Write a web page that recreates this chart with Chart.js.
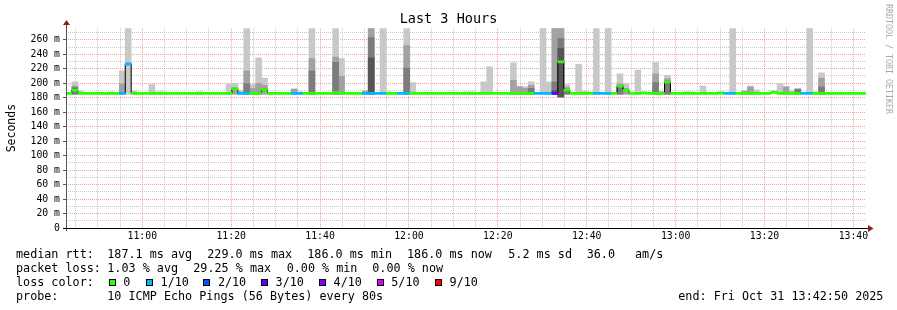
<!DOCTYPE html>
<html>
<head>
<meta charset="utf-8">
<script src="https://cdn.jsdelivr.net/npm/chart.js@4.4.0/dist/chart.umd.min.js"></script>
<style>
  body { margin: 0; background: #fff; }
  #wrap { position: relative; width: 897px; height: 310px; font-family: 'DejaVu Sans Mono', monospace; }
  #wrap canvas { position: absolute; left: 0; top: 0; }
  .lg { position: absolute; font-size: 11.75px; line-height: 14px; white-space: pre; color: #000; }
  .sw { position: absolute; width: 5px; height: 5px; border: 1px solid #000; }
  #credit { position: absolute; left: 884px; top: 4px; writing-mode: vertical-rl; font-size: 8.3px; line-height: 10px; color: #aaa; white-space: pre; }
</style>
</head>
<body>
<div id="wrap">
  <canvas id="smoke" width="897" height="310"></canvas>
  <div id="credit">RRDTOOL / TOBI OETIKER</div>
  <div id="legend"></div>
</div>
<script>
// time axis in minutes since midnight
var startMin = 10 * 60 + 42 + 50 / 60;   // 10:42:50
var stepMin = 80 / 60;                   // one probe round every 80 s

// median rtt (ms) per 80 s step, 135 steps
var median = [
  186, 190, 186, 186, 186, 186, 186, 186, 186, 186, 226.5, 186, 186, 186, 186,
  186, 186, 186, 186, 186, 186, 186, 186, 186, 186, 186, 186, 186, 192, 186,
  186, 186, 186, 191, 186, 186, 186, 186, 186, 186, 186, 186, 186, 186, 186,
  187, 186, 186, 186, 186, 186, 186, 186, 186, 186, 186, 186, 186, 186, 186,
  186, 186, 186, 186, 186, 186, 186, 186, 186, 186, 186, 186, 186, 186, 186,
  186, 186, 186, 186, 186, 186, 186, 186, 229.5, 190.5, 186, 186, 186, 186, 186,
  186, 186, 186, 196, 190, 186, 186, 186.5, 186, 186, 186, 201.5, 186, 186, 186,
  186, 186, 186, 186, 186, 186.5, 186, 186, 186, 186, 186, 186, 186, 186, 187.5,
  186, 186, 186, 186, 186, 186, 186, 186, 186, 186, 186, 186, 186, 186, 186
];

// lost pings out of 10 per step
var lossCount = [
  0, 0, 0, 0, 0, 0, 0, 0, 0, 1, 1, 0, 0, 0, 0,
  0, 0, 0, 0, 0, 0, 0, 0, 0, 0, 0, 0, 0, 0, 1,
  1, 0, 0, 0, 0, 0, 0, 0, 1, 1, 0, 0, 0, 0, 0,
  0, 0, 0, 0, 0, 1, 1, 1, 1, 0, 0, 1, 1, 0, 0,
  0, 0, 0, 0, 0, 0, 0, 0, 0, 0, 0, 0, 0, 0, 0,
  0, 0, 0, 0, 1, 1, 1, 3, 0, 0, 0, 0, 0, 0, 1,
  1, 1, 0, 0, 0, 0, 0, 0, 0, 0, 0, 0, 0, 0, 0,
  0, 0, 0, 0, 0, 0, 1, 1, 0, 0, 0, 0, 0, 0, 0,
  0, 0, 0, 0, 1, 1, 0, 0, 0, 0, 0, 0, 0, 0, 0
];

// smoke: steps that show spread, low edge and the top of each grey band (outer to inner)
var smokeStep = [
  1, 2, 7, 9, 10, 11, 14, 15, 16, 22,
  27, 28, 29, 30, 31, 32, 33, 38, 39, 41,
  45, 46, 50, 51, 53, 54, 57, 58, 67, 68,
  70, 71, 75, 76, 77, 78, 80, 81, 82, 83,
  84, 86, 87, 88, 89, 91, 93, 94, 96, 99,
  100, 101, 104, 105, 107, 112, 114, 115, 116, 120,
  121, 122, 123, 125, 126, 127
];
var smokeLow = [
  185, 185, 185, 185, 185, 185, 185, 185, 185, 185,
  185, 185, 185, 185, 185, 185, 185, 185, 185, 185,
  185, 185, 185, 185, 185, 185, 185, 185, 185, 185,
  185, 185, 185, 185, 185, 185, 185, 185, 185, 181,
  185, 185, 185, 185, 185, 185, 185, 185, 185, 185,
  185, 185, 185, 185, 185, 185, 185, 185, 185, 185,
  185, 185, 185, 185, 185, 185
];
var smokeTop1 = [
  202, 189, 188, 217, 276, 189, 198, 188, 188, 188,
  199, 200, 190, 276, 198, 235, 207, 192, 188, 276,
  276, 234, 189, 276, 276, 188, 276, 201, 188, 188,
  202, 222.5, 228, 196, 195, 202, 276, 201.5, 276, 276,
  198, 226, 189, 188, 276, 276, 213, 199, 218, 228.5,
  189, 211, 188, 188, 196, 276, 189, 196, 191, 199,
  195, 190, 192, 276, 188, 214.5
];
var smokeTop2 = [
  196, null, null, 199, null, null, null, null, null, null,
  null, 194, null, 217, 193, 200, 197, 192, null, 234,
  236, 210, 189, 276, null, null, 252, null, null, null,
  null, null, 204, 195, 193, 197, null, null, 276, 276,
  194, null, null, null, null, null, 199, 193, null, 213,
  null, 206, null, null, null, null, 189, 195, null, null,
  195, null, 192, null, null, 207
];
var smokeTop3 = [
  194, null, null, null, null, null, null, null, null, null,
  null, null, null, 199, null, null, null, null, null, 217,
  229, null, null, 263, null, null, 221, null, null, null,
  null, null, null, null, null, 193, null, null, 202, 262,
  192, null, null, null, null, null, 197, null, null, 201,
  null, 203, null, null, null, null, null, null, null, null,
  null, null, 192, null, null, 195
];
var smokeTop4 = [
  null, null, null, null, null, null, null, null, null, null,
  null, null, null, null, null, null, null, null, null, null,
  null, null, null, 235, null, null, null, null, null, null,
  null, null, null, null, null, null, null, null, 190, 248,
  null, null, null, null, null, null, null, null, null, null,
  null, null, null, null, null, null, null, null, null, null,
  null, null, null, null, null, null
];

var lossLevels = [0, 1, 2, 3, 4, 5, 9];
var lossLevelText = ['0', '1/10', '2/10', '3/10', '4/10', '5/10', '9/10'];
var lossLevelColor = ['#26ff00', '#00b8ff', '#0059ff', '#5e00ff', '#7e00ff', '#dd00ff', '#ff0000'];

var rttStats = ['187.1 ms avg', '229.0 ms max', '186.0 ms min', '186.0 ms now', '5.2 ms sd', '36.0', 'am/s'];
var lossStats = ['1.03 % avg', '29.25 % max', '0.00 % min', '0.00 % now'];
var probeText = '10 ICMP Echo Pings (56 Bytes) every 80s';
var endText = 'end: Fri Oct 31 13:42:50 2025';

var bandHalf = 1.5;   // half height of the loss coloured median band, ms
var greys = ['#c8c8c8', '#a2a2a2', '#7c7c7c', '#565656'];
var majorGrid = '#f0a0a0';
var minorGrid = '#c8c8c8';

function colorFor(n) {
  var c = lossLevelColor[0];
  lossLevels.forEach(function (lv, i) { if (n >= lv) c = lossLevelColor[i]; });
  return c;
}

function band(tops) {
  return smokeStep.map(function (s, i) {
    if (tops[i] == null) return null;
    return { x: startMin + (s + 0.5) * stepMin, y: [smokeLow[i], tops[i]] };
  }).filter(Boolean);
}

function hhmm(v) {
  var h = Math.floor(v / 60), m = Math.round(v % 60);
  return h + ':' + (m < 10 ? '0' : '') + m;
}

var medianLine = median.map(function (m, s) { return { x: startMin + s * stepMin, y: m }; });
medianLine.push({ x: startMin + median.length * stepMin, y: median[median.length - 1] });

var lossBand = median.map(function (m, s) {
  return { x: startMin + (s + 0.5) * stepMin, y: [m - bandHalf, m + bandHalf] };
});

var axisArrows = {
  id: 'axisArrows',
  afterDatasetsDraw: function (chart) {
    var a = chart.chartArea, c = chart.ctx;
    var l = Math.round(a.left), b = Math.round(a.bottom), r = Math.round(a.right), t = Math.round(a.top);
    c.save();
    c.lineWidth = 1;
    c.setLineDash([]);
    c.strokeStyle = '#555';
    c.beginPath(); c.moveTo(l + 0.5, b + 3); c.lineTo(l + 0.5, t - 3); c.stroke();
    c.strokeStyle = '#000';
    c.beginPath(); c.moveTo(l - 3, b + 0.5); c.lineTo(r + 2, b + 0.5); c.stroke();
    c.fillStyle = '#8c1f1f';
    c.beginPath(); c.moveTo(l + 0.5, t - 8); c.lineTo(l - 3, t - 3); c.lineTo(l + 4, t - 3); c.closePath(); c.fill();
    c.beginPath(); c.moveTo(r + 7.5, b + 0.5); c.lineTo(r + 2, b - 3); c.lineTo(r + 2, b + 4); c.closePath(); c.fill();
    c.restore();
  }
};

new Chart(document.getElementById('smoke').getContext('2d'), {
  type: 'bar',
  data: {
    datasets: [
      { type: 'bar', data: lossBand, backgroundColor: lossCount.map(colorFor), order: 0 },
      { type: 'line', data: medianLine, stepped: true, borderColor: '#000', borderWidth: 1,
        pointRadius: 0, fill: false, order: 1 },
      { type: 'bar', data: band(smokeTop4), backgroundColor: greys[3], order: 2 },
      { type: 'bar', data: band(smokeTop3), backgroundColor: greys[2], order: 3 },
      { type: 'bar', data: band(smokeTop2), backgroundColor: greys[1], order: 4 },
      { type: 'bar', data: band(smokeTop1), backgroundColor: greys[0], order: 5 }
    ]
  },
  options: {
    responsive: false,
    animation: false,
    devicePixelRatio: 1,
    layout: { padding: 0 },
    datasets: { bar: { grouped: false, barPercentage: 1, categoryPercentage: 1, borderWidth: 0 } },
    plugins: {
      legend: { display: false },
      tooltip: { enabled: false },
      title: {
        display: true, text: 'Last 3 Hours', color: '#000',
        font: { family: 'DejaVu Sans Mono', size: 13.5, weight: 'normal' },
        padding: { top: 11, bottom: 1 }
      }
    },
    scales: {
      x: {
        type: 'linear', offset: false,
        min: startMin, max: startMin + 180,
        afterBuildTicks: function (scale) {
          var ticks = [];
          for (var v = 645; v <= 820; v += 5) ticks.push({ value: v });
          scale.ticks = ticks;
        },
        afterFit: function (scale) { scale.height = 82; },
        ticks: {
          autoSkip: false, maxRotation: 0, padding: 3, color: '#000',
          font: { family: 'DejaVu Sans Mono', size: 9.8 },
          callback: function (v) { return v % 20 === 0 ? hhmm(v) : ''; }
        },
        grid: {
          offset: false, drawTicks: false, lineWidth: 1,
          borderDash: [1, 1],
          color: function (ctx) { return ctx.tick && ctx.tick.value % 20 === 0 ? majorGrid : minorGrid; }
        },
        border: { display: false, dash: [1, 1] }
      },
      y: {
        type: 'linear', min: 0, max: 276,
        afterBuildTicks: function (scale) {
          var ticks = [];
          for (var v = 0; v <= 270; v += 10) ticks.push({ value: v });
          scale.ticks = ticks;
        },
        afterFit: function (scale) { scale.width = 66; },
        ticks: {
          autoSkip: false, padding: 3, color: '#000',
          font: { family: 'DejaVu Sans Mono', size: 9.8 },
          callback: function (v) { return v % 20 ? '' : (v === 0 ? '0' : v + ' m'); }
        },
        grid: {
          drawTicks: true, tickLength: 3, tickBorderDash: [], lineWidth: 1,
          borderDash: [1, 1],
          color: function (ctx) {
            if (!ctx.tick || ctx.tick.value === 0) return 'rgba(0,0,0,0)';
            return ctx.tick.value % 20 === 0 ? majorGrid : minorGrid;
          },
          tickColor: function (ctx) { return ctx.tick && ctx.tick.value % 20 === 0 ? '#555' : 'rgba(0,0,0,0)'; }
        },
        border: { display: false, dash: [1, 1] },
        title: {
          display: true, text: 'Seconds', color: '#000',
          font: { family: 'DejaVu Sans Mono', size: 11.5 },
          padding: { top: 5, bottom: 0 }
        }
      },
      // empty strip on the right, keeps the title centred on the whole image
      side: {
        type: 'linear', position: 'right', display: true,
        afterFit: function (scale) { scale.width = 31; },
        ticks: { display: false },
        grid: { display: false, drawTicks: false },
        border: { display: false }
      }
    }
  },
  plugins: [axisArrows]
});

// legend rows under the graph
var legend = document.getElementById('legend');
function put(text, x, top) {
  var d = document.createElement('div');
  d.className = 'lg';
  d.style.left = x + 'px';
  d.style.top = top + 'px';
  d.textContent = text;
  legend.appendChild(d);
}
var rowTop = [247.2, 261.2, 275.3, 289.4];
var rttX = [107.3, 207.3, 307.3, 407, 508.3, 586.7, 635];
var lossX = [107.3, 193.3, 286.7, 372.3];
var swatchX = [108.7, 146, 203.3, 261, 319, 376.7, 435];

put('median rtt:', 16, rowTop[0]);
rttStats.forEach(function (t, i) { put(t, rttX[i], rowTop[0]); });
put('packet loss:', 16, rowTop[1]);
lossStats.forEach(function (t, i) { put(t, lossX[i], rowTop[1]); });
put('loss color:', 16, rowTop[2]);
lossLevelText.forEach(function (t, i) {
  var sq = document.createElement('div');
  sq.className = 'sw';
  sq.style.left = Math.round(swatchX[i]) + 'px';
  sq.style.top = '279px';
  sq.style.background = lossLevelColor[i];
  legend.appendChild(sq);
  put(t, swatchX[i] + 14.6, rowTop[2]);
});
put('probe:', 16, rowTop[3]);
put(probeText, 107.3, rowTop[3]);
put(endText, 678.3, rowTop[3]);
</script>
</body>
</html>
